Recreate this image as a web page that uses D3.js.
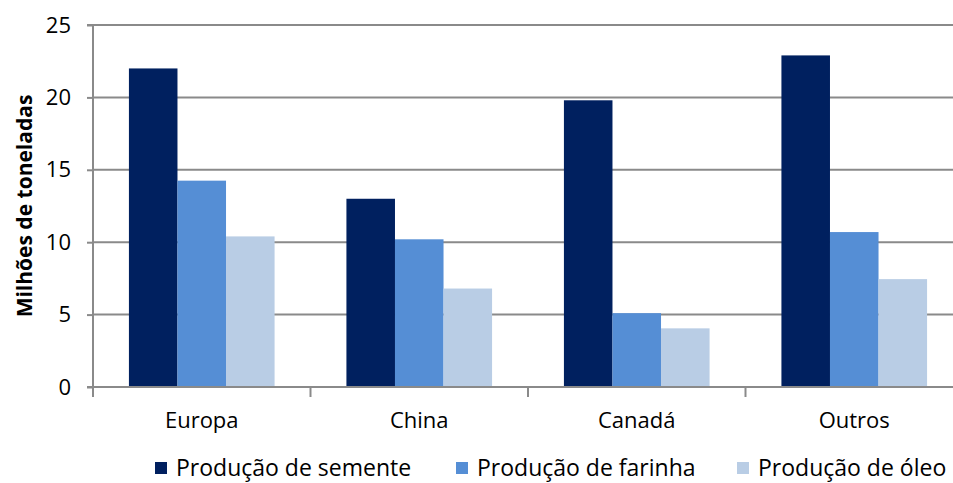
<!DOCTYPE html>
<html>
<head>
<meta charset="utf-8">
<script src="https://cdn.jsdelivr.net/npm/d3@7"></script>
<style>
  html, body { margin: 0; padding: 0; background: #fff; }
  svg { display: block; }
  text { font-family: "Open Sans", "DejaVu Sans", sans-serif; fill: #000; }
</style>
</head>
<body>
<svg id="chart" width="953" height="483"></svg>
<script>
// Regions and production series (millions of tonnes)
const regions = ["Europa", "China", "Canadá", "Outros"];
const seriesNames = ["Produção de semente", "Produção de farinha", "Produção de óleo"];
const semente = [22.0, 13.0, 19.8, 22.9];
const farinha = [14.25, 10.2, 5.1, 10.7];
const oleo = [10.4, 6.8, 4.05, 7.45];
const yTicks = [0, 5, 10, 15, 20, 25];
const colors = ["#00205F", "#558ED5", "#B9CDE5"];

const seriesValues = [semente, farinha, oleo];

const svg = d3.select("#chart");
const margin = { left: 93, top: 25, right: -10, bottom: 96 };
const width = 953 - margin.left - margin.right;
const height = 483 - margin.top - margin.bottom;
const fontSize = 22;

const g = svg.append("g").attr("transform", `translate(${margin.left},${margin.top})`);

const x0 = d3.scaleBand().domain(regions).range([0, width]).paddingInner(0).paddingOuter(0);
const x1 = d3.scaleBand().domain(seriesNames).range([0, x0.bandwidth()]).paddingInner(0).paddingOuter(0.74);
const y = d3.scaleLinear().domain([0, 25]).range([height, 0]);

// Horizontal gridlines
g.append("g").selectAll("line").data(yTicks.filter(d => d > 0)).join("line")
  .attr("x1", 0).attr("x2", width)
  .attr("y1", d => y(d)).attr("y2", d => y(d))
  .attr("stroke", "#8a8a8a").attr("stroke-width", 2);

// Bars
const groups = g.append("g").selectAll("g").data(regions).join("g")
  .attr("transform", d => `translate(${x0(d)},0)`);
groups.selectAll("rect")
  .data((r, i) => seriesNames.map((s, k) => ({ s, k, v: seriesValues[k][i] })))
  .join("rect")
  .attr("x", d => x1(d.s))
  .attr("width", x1.bandwidth())
  .attr("y", d => y(d.v))
  .attr("height", d => y(0) - y(d.v))
  .attr("fill", d => colors[d.k]);

// Y axis
const yAxis = g.append("g").call(
  d3.axisLeft(y).tickValues(yTicks).tickSize(6).tickPadding(16).tickFormat(d3.format("d"))
);
yAxis.select(".domain").attr("stroke", "#8a8a8a").attr("stroke-width", 2).attr("d", `M-6,${height}H0V0H-6`);
yAxis.selectAll(".tick line").attr("stroke", "#8a8a8a").attr("stroke-width", 2);
yAxis.selectAll(".tick text").attr("font-size", fontSize).attr("font-family", "'Open Sans', sans-serif");

// X axis with ticks at category boundaries
const xAxis = g.append("g").attr("transform", `translate(0,${height})`);
xAxis.append("line").attr("x1", 0).attr("x2", width).attr("stroke", "#8a8a8a").attr("stroke-width", 2);
xAxis.selectAll("line.tk").data(d3.range(regions.length + 1)).join("line")
  .attr("class", "tk")
  .attr("x1", i => i * x0.step()).attr("x2", i => i * x0.step())
  .attr("y1", 0).attr("y2", 10)
  .attr("stroke", "#8a8a8a").attr("stroke-width", 2);
xAxis.selectAll("text").data(regions).join("text")
  .attr("x", d => x0(d) + x0.bandwidth() / 2)
  .attr("y", 41)
  .attr("text-anchor", "middle")
  .attr("font-size", fontSize)
  .text(d => d);

// Y axis title
svg.append("text")
  .attr("transform", `translate(32,${margin.top + height / 2}) rotate(-90)`)
  .attr("text-anchor", "middle")
  .attr("font-size", 21)
  .attr("font-weight", "bold")
  .text("Milhões de toneladas");

// Legend
const legendX = [155, 456, 737];
const legend = svg.append("g").selectAll("g").data(seriesNames).join("g")
  .attr("transform", (d, i) => `translate(${legendX[i]},462)`);
legend.append("rect").attr("width", 12).attr("height", 12).attr("fill", (d, i) => colors[i]);
legend.append("text").attr("x", 21).attr("y", 14).attr("font-size", 23).text(d => d);
</script>
</body>
</html>
